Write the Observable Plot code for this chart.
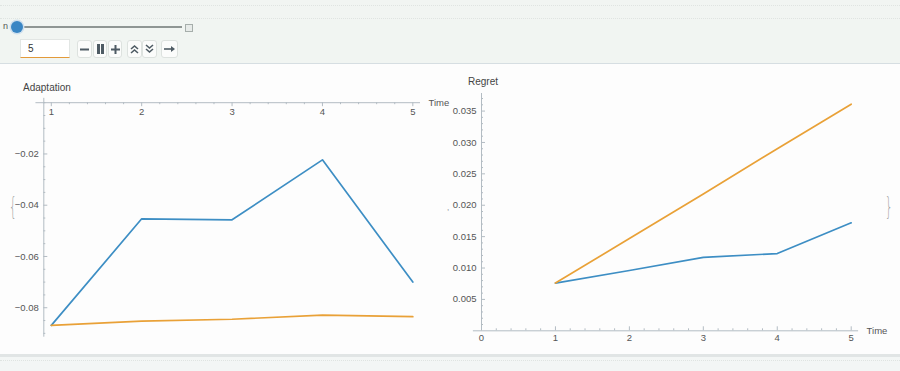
<!DOCTYPE html>
<html>
<head>
<meta charset="utf-8">
<script src="https://cdn.jsdelivr.net/npm/d3@7"></script>
<script src="https://cdn.jsdelivr.net/npm/@observablehq/plot@0.6"></script>
<style>
  html, body { margin: 0; padding: 0; }
  body { width: 900px; height: 371px; position: relative; overflow: hidden; background: #fdfdfd; font-family: "Liberation Sans", Arial, sans-serif; }
  .abs { position: absolute; }
  #top { left: 0; top: 0; width: 900px; height: 63px; background: #f1f5f2; border-bottom: 1px solid #d6dee2; }
  .dots { left: 0; width: 900px; height: 0; border-top: 1px dotted #dfe4e1; }
  .btn { top: 40px; height: 18px; background: #fbfcfb; border: 1px solid #dde2df; border-radius: 3px; box-sizing: border-box; display: flex; align-items: center; justify-content: center; }
  .btn svg { display: block; }
  #bottom { left: 0; top: 354px; width: 900px; height: 17px; background: #f3f6f5; border-top: 3px solid #e1e5e5; box-sizing: border-box; }
  .title { font-size: 10px; color: #444; white-space: nowrap; }
  .brace { color: #a8a8a8; font-family: "DejaVu Sans", sans-serif; font-size: 24px; font-weight: 300; line-height: 1; transform: scaleX(0.5); transform-origin: left top; }
</style>
</head>
<body>
<div id="top" class="abs"></div>
<div class="abs dots" style="top:5px"></div>
<div class="abs dots" style="top:18px"></div>
<div class="abs" style="left:3px; top:22px; font-size:9px; line-height:9px; color:#555;">n</div>
<div class="abs" style="left:14px; top:26px; width:168px; height:2px; background:#8f9694;"></div>
<div class="abs" style="left:11px; top:21px; width:12px; height:12px; border-radius:50%; background:#3a86c4; box-shadow:0 0 0 1.5px #cfe0ee;"></div>
<div class="abs" style="left:185px; top:24px; width:6px; height:6px; border:1px solid #a6aeab; background:#e7ebe9;"></div>
<div class="abs" style="left:20px; top:39px; width:50px; height:19px; background:#fff; border:1px solid #e2e6e4; border-bottom:1px solid #e39a3a; box-sizing:border-box; font-size:10px; color:#333; padding:3px 0 0 7px;">5</div>
<div class="abs btn" style="left:77px; width:15px;"><svg width="9" height="9"><rect x="0" y="3.5" width="9" height="2" fill="#4e5b64"/></svg></div>
<div class="abs btn" style="left:93px; width:14px;"><svg width="9" height="10"><rect x="1" y="0" width="3" height="10" fill="#4e5b64"/><rect x="5" y="0" width="3" height="10" fill="#4e5b64"/></svg></div>
<div class="abs btn" style="left:108px; width:14px;"><svg width="9" height="9"><rect x="0" y="3.5" width="9" height="2" fill="#4e5b64"/><rect x="3.5" y="0" width="2" height="9" fill="#4e5b64"/></svg></div>
<div class="abs btn" style="left:127px; width:15px;"><svg width="9" height="10"><path d="M1 5 L4.5 2 L8 5 M1 9 L4.5 6 L8 9" stroke="#4e5b64" stroke-width="1.6" fill="none"/></svg></div>
<div class="abs btn" style="left:142px; width:15px;"><svg width="9" height="10"><path d="M1 1 L4.5 4 L8 1 M1 5 L4.5 8 L8 5" stroke="#4e5b64" stroke-width="1.6" fill="none"/></svg></div>
<div class="abs btn" style="left:161px; width:17px;"><svg width="12" height="8"><path d="M0 4 L9 4" stroke="#4e5b64" stroke-width="1.6"/><path d="M7 1 L11 4 L7 7 Z" fill="#4e5b64"/></svg></div>
<div id="bottom" class="abs"></div>
<div class="abs dots" style="top:360px"></div>

<div id="left" class="abs" style="left:0; top:65px;"></div>
<div id="right" class="abs" style="left:450px; top:65px;"></div>
<div class="abs title" style="left:23px; top:82px;">Adaptation</div>
<div class="abs title" style="left:468px; top:76px;">Regret</div>
<div class="abs brace" style="left:9px; top:195px;">{</div>
<div class="abs brace" style="left:885px; top:195px;">}</div>
<div class="abs" style="left:447px; top:203px; font-size:8px; color:#777;">,</div>

<script>
// ---- data ----
const time = [1, 2, 3, 4, 5];
const adaptationBlue   = [-0.0869, -0.0453, -0.0457, -0.0223, -0.0700];
const adaptationOrange = [-0.0869, -0.0852, -0.0845, -0.0829, -0.0835];
const regretBlue   = [0.0076, 0.0096, 0.0117, 0.0123, 0.0172];
const regretOrange = [0.0076, 0.0147, 0.0218, 0.0290, 0.0361];
const leftXTicks  = [1, 2, 3, 4, 5];
const leftYTicks  = [-0.08, -0.06, -0.04, -0.02];
const leftYLabels = ["\u22120.08", "\u22120.06", "\u22120.04", "\u22120.02"];
const rightXTicks = [0, 1, 2, 3, 4, 5];
const rightYTicks = [0.005, 0.010, 0.015, 0.020, 0.025, 0.030, 0.035];
const rightYLabels = ["0.005", "0.010", "0.015", "0.020", "0.025", "0.030", "0.035"];
const axisLabel = "Time";

const BLUE = "#3d8ec4", ORANGE = "#e9a137", AXIS = "#b3bcc3", TXT = "#555";
const FONT = "Liberation Sans, Arial, sans-serif";

function chart(cfg) {
  const W = 450, H = 285;
  const kx = (cfg.xDomain[1] - cfg.xDomain[0]) / (W - cfg.mL - cfg.mR);
  const ky = (cfg.yDomain[1] - cfg.yDomain[0]) / (H - cfg.mT - cfg.mB);
  const rows = (arr) => time.map((t, i) => ({t, v: arr[i]}));
  const near = (a, list) => list.some(b => Math.abs(a - b) < 1e-9);
  const xMinor = cfg.xMinor.filter(v => !near(v, cfg.xTicks));
  const yMinor = cfg.yMinor.filter(v => !near(v, cfg.yTicks));
  const s = cfg.tickDir;
  return Plot.plot({
    width: W, height: H,
    marginLeft: cfg.mL, marginRight: cfg.mR, marginTop: cfg.mT, marginBottom: cfg.mB,
    x: {domain: cfg.xDomain, axis: null},
    y: {domain: cfg.yDomain, axis: null},
    style: {fontFamily: FONT, fontSize: "9.5px", background: "transparent", overflow: "visible"},
    marks: [
      Plot.ruleY([0], {x1: cfg.xAxisFrom, x2: cfg.xDomain[1], stroke: AXIS, strokeWidth: 1}),
      Plot.ruleX([cfg.yAxisAt], {y1: cfg.yAxisFrom, y2: cfg.yAxisTo, stroke: AXIS, strokeWidth: 1}),
      Plot.ruleX(cfg.xTicks, {x: d => d, y1: 0, y2: s * 4 * ky, stroke: AXIS}),
      Plot.ruleX(xMinor, {x: d => d, y1: 0, y2: s * 2 * ky, stroke: AXIS}),
      Plot.ruleY(cfg.yTicks, {y: d => d, x1: cfg.yAxisAt, x2: cfg.yAxisAt + 4 * kx, stroke: AXIS}),
      Plot.ruleY(yMinor, {y: d => d, x1: cfg.yAxisAt, x2: cfg.yAxisAt + 2 * kx, stroke: AXIS}),
      Plot.text(cfg.xTicks, {x: d => d, y: 0, dy: cfg.xLabelDy, text: d => String(d), fill: TXT, fontSize: 9.5}),
      Plot.text(cfg.yTicks, {x: cfg.yAxisAt, y: d => d, dx: -5, text: (d, i) => cfg.yLabels[i], textAnchor: "end", fill: TXT, fontSize: 9.5}),
      Plot.text([axisLabel], {x: cfg.xDomain[1], y: 0, dx: 8, text: d => d, textAnchor: "start", fill: TXT, fontSize: 9.5}),
      Plot.line(rows(cfg.blue), {x: "t", y: "v", stroke: BLUE, strokeWidth: 1.7}),
      Plot.line(rows(cfg.orange), {x: "t", y: "v", stroke: ORANGE, strokeWidth: 1.7})
    ]
  });
}

document.getElementById("left").append(chart({
  xDomain: [0.917, 5.085], yDomain: [-0.0915, 0],
  mL: 43.3, mR: 30, mT: 37.2, mB: 13.3,
  xAxisFrom: 0.83, yAxisAt: 0.917, yAxisFrom: -0.0915, yAxisTo: 0.0017,
  xTicks: leftXTicks, yTicks: leftYTicks, yLabels: leftYLabels,
  xMinor: d3.range(1, 5.0001, 0.2), yMinor: d3.range(-0.09, 0.0001, 0.005),
  tickDir: -1, xLabelDy: 9,
  blue: adaptationBlue, orange: adaptationOrange
}));

document.getElementById("right").append(chart({
  xDomain: [0, 5.1], yDomain: [0, 0.0378],
  mL: 31, mR: 41.9, mT: 28, mB: 19.7,
  xAxisFrom: -0.11, yAxisAt: 0, yAxisFrom: 0, yAxisTo: 0.0378,
  xTicks: rightXTicks, yTicks: rightYTicks, yLabels: rightYLabels,
  xMinor: d3.range(0, 5.0001, 0.2), yMinor: d3.range(0.001, 0.0376, 0.001),
  tickDir: 1, xLabelDy: 7,
  blue: regretBlue, orange: regretOrange
}));
</script>
</body>
</html>
